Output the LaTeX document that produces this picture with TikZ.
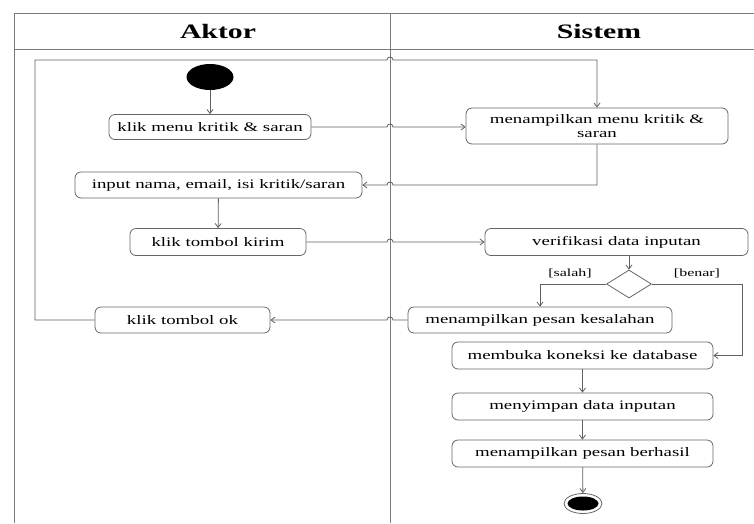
\documentclass[tikz,border=0pt]{standalone}
\usepackage{fontspec}
\setmainfont{Liberation Serif}[FakeStretch=1.45]
\usetikzlibrary{arrows.meta,shapes.geometric,calc}
\definecolor{lc}{HTML}{606060}
\definecolor{bc}{HTML}{666666}
\definecolor{fc}{HTML}{7A7A7A}
\begin{document}
\begin{tikzpicture}[x=1pt,y=-1pt,
  ln/.style={draw=lc, line width=0.8pt},
  arr/.style={ln, -{Straight Barb[length=4pt,width=6pt]}},
  act/.style={draw=bc, line width=0.8pt, rounded corners=6pt, rectangle,
    inner sep=0pt, font=\fontsize{13}{14}\selectfont, align=center},
  hdr/.style={font=\bfseries\fontsize{20.5}{22}\selectfont, inner sep=0pt},
  guard/.style={font=\fontsize{11}{12}\selectfont, inner sep=0pt},
  frame/.style={draw=fc, line width=1pt}]
\useasboundingbox (0,0) rectangle (754,523);
% swimlane frame
\draw[frame] (14,523) -- (14,13) -- (754,13);
\draw[frame] (14,49) -- (754,49);
\draw[frame] (390,13) -- (390,523);
\coordinate (div) at (390,13);
\node[hdr] (haktor) at (218,31) {Aktor};
\node[hdr] (hsistem) at (599,31) {Sistem};
% nodes
\node[ellipse, fill=black, minimum width=47pt, minimum height=26pt, inner sep=0pt] (start) at (210,77) {};
\node[act, minimum width=202pt, minimum height=25pt] (k1) at (210,127) {klik menu kritik \& saran};
\node[act, minimum width=262pt, minimum height=36pt] (m1) at (597,126) {menampilkan menu kritik \&\\saran};
\node[act, minimum width=287pt, minimum height=26pt] (inp) at (218.5,185) {input nama, email, isi kritik/saran};
\node[act, minimum width=176pt, minimum height=27pt] (kirim) at (218,242) {klik tombol kirim};
\node[act, minimum width=263pt, minimum height=27pt] (verif) at (616.5,242) {verifikasi data inputan};
\node[diamond, draw=bc, line width=0.8pt, minimum width=45pt, minimum height=28pt, inner sep=0pt] (dec) at (629,284) {};
\node[act, minimum width=264pt, minimum height=26pt] (salah) at (540,320) {menampilkan pesan kesalahan};
\node[act, minimum width=175pt, minimum height=26pt] (ok) at (182.5,320) {klik tombol ok};
\node[act, minimum width=261pt, minimum height=27pt] (buka) at (582.5,355.5) {membuka koneksi ke database};
\node[act, minimum width=261pt, minimum height=27pt] (simpan) at (582.5,406.5) {menyimpan data inputan};
\node[act, minimum width=261pt, minimum height=27pt] (hasil) at (582.5,453.5) {menampilkan pesan berhasil};
\node[ellipse, draw=bc, line width=0.8pt, minimum width=38pt, minimum height=20pt, inner sep=0pt] (end) at (583,503.5) {};
\node[ellipse, fill=black, minimum width=31pt, minimum height=14pt, inner sep=0pt] (endin) at (583,503.5) {};
\node[guard] (lsalah) at (570,273) {[salah]};
\node[guard] (lbenar) at (697,273) {[benar]};
\coordinate (lx) at (35,60);
% connectors
\draw[arr] (start) -- (k1);
\draw[arr] (k1.east) -- ($(k1.east -| div)+(-3,0)$) .. controls +(0,-4) and +(0,-4) .. ($(k1.east -| div)+(3,0)$) -- (k1.east -| m1.west);
\draw[arr] (m1.south) -- (m1.south |- inp.east) -- ($(inp.east -| div)+(3,0)$) .. controls +(0,-4) and +(0,-4) .. ($(inp.east -| div)+(-3,0)$) -- (inp.east);
\draw[arr] (inp) -- (kirim);
\draw[arr] (kirim.east) -- ($(kirim.east -| div)+(-3,0)$) .. controls +(0,-4) and +(0,-4) .. ($(kirim.east -| div)+(3,0)$) -- (verif.west);
\draw[arr] (verif.south -| dec.north) -- (dec.north);
\draw[arr] (dec.west) -- (dec.west -| salah.north) -- (salah.north);
\draw[arr] (dec.east) -- (742,284) -- (742,355.5) -- (buka.east);
\draw[arr] (salah.west) -- ($(salah.west -| div)+(3,0)$) .. controls +(0,-4) and +(0,-4) .. ($(salah.west -| div)+(-3,0)$) -- (ok.east);
\draw[arr] (ok.west) -- (ok.west -| lx) -- (lx) -- ($(lx -| div)+(-3,0)$) .. controls +(0,-4) and +(0,-4) .. ($(lx -| div)+(3,0)$) -- (lx -| m1.north) -- (m1.north);
\draw[arr] (buka) -- (simpan);
\draw[arr] (simpan) -- (hasil);
\draw[arr] (hasil) -- (end);
\end{tikzpicture}
\end{document}
